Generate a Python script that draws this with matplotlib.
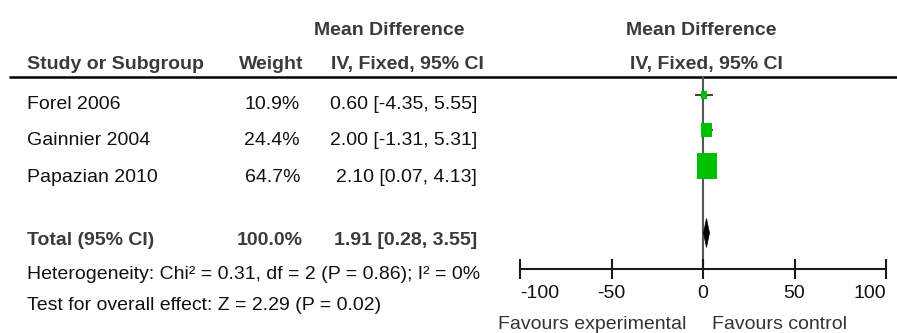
import matplotlib
matplotlib.use("Agg")
import matplotlib.pyplot as plt
from matplotlib.patches import Rectangle, Polygon

plt.rcParams['font.family'] = ['Liberation Sans', 'DejaVu Sans']

# ---- data ----
studies = ["Forel 2006", "Gainnier 2004", "Papazian 2010"]
weights = [10.9, 24.4, 64.7]
md = [0.60, 2.00, 2.10]
ci_low = [-4.35, -1.31, 0.07]
ci_high = [5.55, 5.31, 4.13]
total_weight = 100.0
total_md = 1.91
total_low = 0.28
total_high = 3.55
heterogeneity = "Heterogeneity: Chi\u00b2 = 0.31, df = 2 (P = 0.86); I\u00b2 = 0%"
overall = "Test for overall effect: Z = 2.29 (P = 0.02)"
xticks = [-100, -50, 0, 50, 100]
favours_left = "Favours experimental"
favours_right = "Favours control"

# ---- layout (pixels) ----
W, H = 897, 333
FS = 14
HEAD_C = '#3b3b3b'
BODY_C = '#111111'
GREEN = '#00c000'
PX_PER_UNIT = 366 / 200.0

row_mark_y = [95, 130, 166]
row_text_y = [109, 145, 182]
total_mark_y = 233
total_text_y = 245

fig = plt.figure(figsize=(W / 100, H / 100), dpi=100)
axt = fig.add_axes([0, 0, 1, 1])
axt.set_xlim(0, W)
axt.set_ylim(H, 0)
axt.axis('off')

# headers
axt.text(389, 35, "Mean Difference", ha='center', va='baseline', fontsize=FS, fontweight='bold', color=HEAD_C)
axt.text(27, 69, "Study or Subgroup", ha='left', va='baseline', fontsize=FS, fontweight='bold', color=HEAD_C)
axt.text(303, 69, "Weight", ha='right', va='baseline', fontsize=FS, fontweight='bold', color=HEAD_C)
axt.text(484, 69, "IV, Fixed, 95% CI", ha='right', va='baseline', fontsize=FS, fontweight='bold', color=HEAD_C)
axt.text(701, 35, "Mean Difference", ha='center', va='baseline', fontsize=FS, fontweight='bold', color=HEAD_C)
axt.text(706, 69, "IV, Fixed, 95% CI", ha='center', va='baseline', fontsize=FS, fontweight='bold', color=HEAD_C)
axt.plot([9, W], [77, 77], color='black', lw=1.8, solid_capstyle='butt')

for name, wt, m, lo, hi, ty in zip(studies, weights, md, ci_low, ci_high, row_text_y):
    axt.text(27, ty, name, ha='left', va='baseline', fontsize=FS, color=BODY_C)
    axt.text(300, ty, f"{wt:.1f}%", ha='right', va='baseline', fontsize=FS, color=BODY_C)
    axt.text(477, ty, f"{m:.2f} [{lo:.2f}, {hi:.2f}]", ha='right', va='baseline', fontsize=FS, color=BODY_C)

axt.text(27, total_text_y, "Total (95% CI)", ha='left', va='baseline', fontsize=FS, fontweight='bold', color=HEAD_C)
axt.text(303, total_text_y, f"{total_weight:.1f}%", ha='right', va='baseline', fontsize=FS, fontweight='bold', color=HEAD_C)
axt.text(477, total_text_y, f"{total_md:.2f} [{total_low:.2f}, {total_high:.2f}]", ha='right', va='baseline', fontsize=FS, fontweight='bold', color=HEAD_C)
axt.text(27, 279, heterogeneity, ha='left', va='baseline', fontsize=FS, color=BODY_C)
axt.text(27, 310, overall, ha='left', va='baseline', fontsize=FS, color=BODY_C)
axt.text(592, 329, favours_left, ha='center', va='baseline', fontsize=FS, color='#333333')
axt.text(780, 329, favours_right, ha='center', va='baseline', fontsize=FS, color='#333333')

# forest plot axes
ax = fig.add_axes([520 / W, 0, 366 / W, 1])
ax.set_xlim(-100, 100)
ax.set_ylim(H, 0)
ax.patch.set_visible(False)
for s in ['top', 'left', 'right']:
    ax.spines[s].set_visible(False)
ax.spines['bottom'].set_position(('data', 268.5))
ax.spines['bottom'].set_linewidth(1.5)
ax.spines['bottom'].set_color('#1a1a1a')
ax.set_yticks([])
ax.set_xticks(xticks)
ax.set_xticklabels([str(t) for t in xticks])
ax.tick_params(axis='x', direction='inout', length=14, width=1.5, color='#1a1a1a',
               labelsize=FS, labelcolor=BODY_C, pad=5)
labels = ax.get_xticklabels()
labels[0].set_horizontalalignment('left')
labels[-1].set_horizontalalignment('right')

ax.plot([0, 0], [77, 268.5], color='#555555', lw=1.5, zorder=1)

for wt, m, lo, hi, my in zip(weights, md, ci_low, ci_high, row_mark_y):
    ax.plot([lo, hi], [my, my], color='#333333', lw=1.3, zorder=2, solid_capstyle='butt')
    w_px = 1.45 * wt ** 0.63
    h_px = 1.95 * wt ** 0.63
    wd = w_px / PX_PER_UNIT
    ax.add_patch(Rectangle((m - wd / 2, my - h_px / 2), wd, h_px, facecolor=GREEN, edgecolor='none', zorder=3))

ax.add_patch(Polygon([[total_low, total_mark_y], [total_md, total_mark_y - 14.5],
                      [total_high, total_mark_y], [total_md, total_mark_y + 14.5]],
                     closed=True, facecolor='black', edgecolor='black', lw=0.5, zorder=3))

fig.savefig("out.png", dpi=100)
